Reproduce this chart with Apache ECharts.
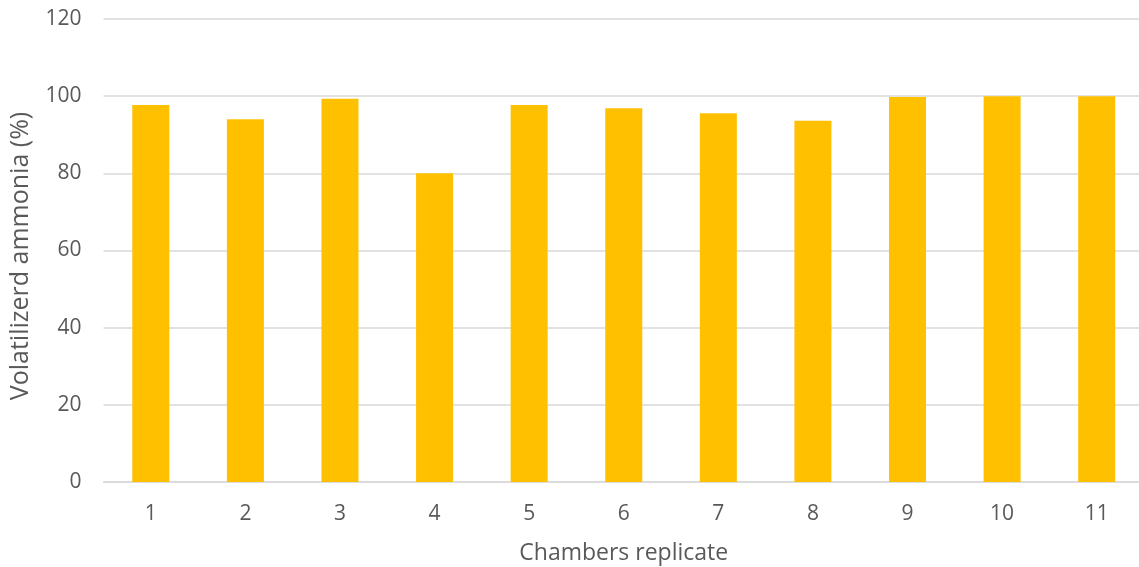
<!DOCTYPE html>
<html>
<head>
<meta charset="utf-8">
<script src="https://cdn.jsdelivr.net/npm/echarts@6/dist/echarts.min.js"></script>
<style>
  html, body { margin: 0; padding: 0; background: #ffffff; }
  #chart { width: 1139px; height: 567px; }
</style>
</head>
<body>
<div id="chart"></div>
<script>
// Volatilized ammonia recovered in each chamber replicate
const chambers = ['1', '2', '3', '4', '5', '6', '7', '8', '9', '10', '11'];
const volatilizedPct = [97.7, 94.0, 99.3, 80.0, 97.7, 96.9, 95.6, 93.6, 99.8, 100, 100];
const yTicks = [0, 20, 40, 60, 80, 100, 120];

const textColor = '#595959';
const fontFamily = 'Open Sans, Liberation Sans, sans-serif';

const chart = echarts.init(document.getElementById('chart'), null, { renderer: 'canvas' });
chart.setOption({
  animation: false,
  backgroundColor: '#ffffff',
  // fixed plot box; the last band runs slightly past the right edge
  grid: { left: 103.5, right: -5, top: 19, bottom: 85, containLabel: false, outerBoundsMode: 'none' },
  xAxis: {
    type: 'category',
    data: chambers,
    name: 'Chambers replicate',
    nameLocation: 'middle',
    nameGap: 60,
    nameTextStyle: { color: textColor, fontSize: 23, fontFamily: fontFamily },
    axisLine: { show: true, lineStyle: { color: '#d9d9d9', width: 1.5 } },
    axisTick: { show: false },
    axisLabel: { color: textColor, fontSize: 21, fontFamily: fontFamily, margin: 22 }
  },
  yAxis: {
    type: 'value',
    min: yTicks[0],
    max: yTicks[yTicks.length - 1],
    interval: yTicks[1] - yTicks[0],
    name: 'Volatilizerd ammonia (%)',
    nameLocation: 'middle',
    nameGap: 70,
    nameTextStyle: { color: textColor, fontSize: 25, fontFamily: fontFamily, padding: [0, 11, 0, 0] },
    axisLine: { show: false },
    axisTick: { show: false },
    axisLabel: { color: textColor, fontSize: 21, fontFamily: fontFamily, margin: 22 },
    splitLine: { lineStyle: { color: '#d9d9d9', width: 1.5 } }
  },
  series: [{
    type: 'bar',
    data: volatilizedPct,
    barWidth: 37,
    itemStyle: { color: '#FFC000' }
  }]
});
</script>
</body>
</html>
